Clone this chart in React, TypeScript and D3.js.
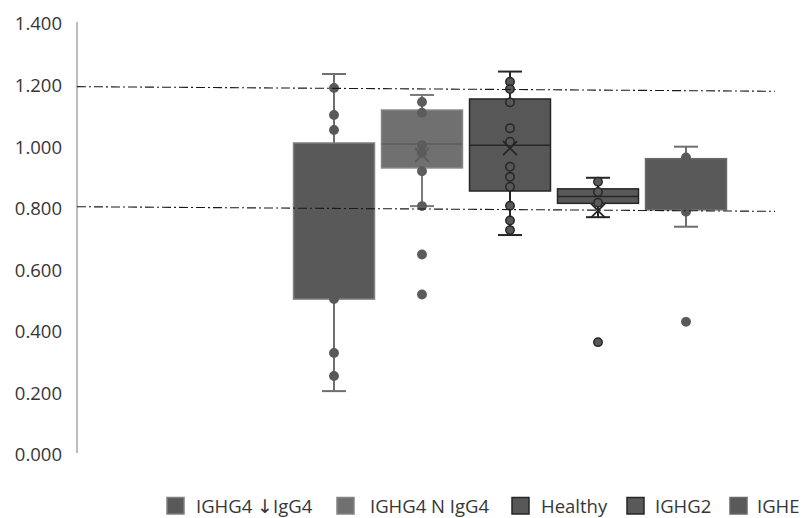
import * as d3 from "d3";

const categories = ["IGHG4 ↓IgG4", "IGHG4 N IgG4", "Healthy", "IGHG2", "IGHE"];
const q1 = [0.5, 0.926, 0.851, 0.811, 0.79];
const medians = [0.5, 1.004, 1.0, 0.833, 0.79];
const q3 = [1.007, 1.114, 1.15, 0.858, 0.956];
const whiskerLow = [0.201, 0.802, 0.708, 0.766, 0.735];
const whiskerHigh = [1.231, 1.163, 1.239, 0.894, 0.995];
const means = [null, 0.968, 0.99, 0.787, null];
const points = [
  [1.186, 1.098, 1.049, 0.5, 0.325, 0.25],
  [1.14, 1.105, 1.0, 0.975, 0.915, 0.802, 0.645, 0.515],
  [1.206, 1.182, 1.139, 1.055, 1.011, 0.93, 0.897, 0.865, 0.803, 0.755, 0.724],
  [0.881, 0.848, 0.813, 0.36],
  [0.96, 0.784, 0.426],
];
const fills = ["#595959", "#707070", "#575757", "#595959", "#595959"];
const strokes = ["#808080", "#858585", "#262626", "#262626", "#6a6a6a"];
const innerColors = ["#595959", "#5c5c5c", "#262626", "#262626", "#595959"];
const whiskerColors = ["#6e6e6e", "#7a7a7a", "#262626", "#262626", "#6e6e6e"];
const showMedian = [false, true, true, true, false];
const upperRef = [1.19, 1.175];
const lowerRef = [0.8, 0.785];
const yTicks = [0, 0.2, 0.4, 0.6, 0.8, 1.0, 1.2, 1.4];
const legendX = [167, 337, 512, 627, 730];
const legendTextOffset = [29, 33, 29, 28, 27];

const W = 803;
const H = 518;
const font = "'Open Sans', sans-serif";
const textColor = "#363636";

// the arrow glyph is drawn larger, in a font that has it at full height
function LegendLabel({ label }: { label: string }) {
  const parts = label.split("↓");
  if (parts.length === 1) return <>{label}</>;
  return (
    <>
      {parts[0]}
      <tspan fontFamily="'DejaVu Sans', sans-serif" fontSize={19}>↓</tspan>
      {parts[1]}
    </>
  );
}

export default function App() {
  const y = d3.scaleLinear().domain([0, 1.4]).range([453, 22]);
  const x = d3
    .scaleBand<string>()
    .domain(categories)
    .range([290, 730])
    .paddingInner(0.08)
    .paddingOuter(0.04);
  const bw = x.bandwidth();
  const refX = d3.scaleLinear().domain([0, 1]).range([77, 775]);

  return (
    <svg
      width={W}
      height={H}
      style={{ position: "absolute", left: 0, top: 0, background: "#fff" }}
    >
      {/* axis */}
      <line x1={77} x2={77} y1={y(1.4)} y2={y(0)} stroke="#a6a6a6" strokeWidth={1.5} />
      {yTicks.map((t) => (
        <text
          key={t}
          x={62}
          y={y(t) + 2}
          dy="0.35em"
          textAnchor="end"
          fontFamily={font}
          fontSize={18.5}
          fill={textColor}
        >
          {d3.format(".3f")(t)}
        </text>
      ))}

      {/* boxes */}
      {categories.map((c, i) => {
        const x0 = x(c)!;
        const cx = x0 + bw / 2;
        const m = means[i];
        return (
          <g key={c}>
            <line x1={cx} x2={cx} y1={y(whiskerHigh[i])} y2={y(whiskerLow[i])} stroke={whiskerColors[i]} strokeWidth={2} />
            <line x1={cx - 12} x2={cx + 12} y1={y(whiskerHigh[i])} y2={y(whiskerHigh[i])} stroke={whiskerColors[i]} strokeWidth={2} />
            <line x1={cx - 12} x2={cx + 12} y1={y(whiskerLow[i])} y2={y(whiskerLow[i])} stroke={whiskerColors[i]} strokeWidth={2} />
            <rect
              x={x0}
              y={y(q3[i])}
              width={bw}
              height={y(q1[i]) - y(q3[i])}
              fill={fills[i]}
              stroke={strokes[i]}
              strokeWidth={1.5}
            />
            {showMedian[i] && (
              <line x1={x0} x2={x0 + bw} y1={y(medians[i])} y2={y(medians[i])} stroke={innerColors[i]} strokeWidth={1.5} />
            )}
            {points[i].map((p, j) => (
              <circle
                key={j}
                cx={cx}
                cy={y(p)}
                r={4.2}
                fill={i === 1 ? innerColors[i] : fills[i]}
                stroke={innerColors[i]}
                strokeWidth={1.5}
              />
            ))}
            {m != null && (
              <path
                d={`M${cx - 7},${y(m) - 7}L${cx + 7},${y(m) + 7}M${cx - 7},${y(m) + 7}L${cx + 7},${y(m) - 7}`}
                stroke={innerColors[i]}
                strokeWidth={1.8}
              />
            )}
          </g>
        );
      })}

      {/* reference lines */}
      {[upperRef, lowerRef].map((r, k) => (
        <line
          key={k}
          x1={refX(0)}
          x2={refX(1)}
          y1={y(r[0])}
          y2={y(r[1])}
          stroke="#1a1a1a"
          strokeWidth={1.1}
          strokeDasharray="9 3 2 3"
        />
      ))}

      {/* legend */}
      {categories.map((c, i) => (
        <g key={c} transform={`translate(${legendX[i]},497.5)`}>
          <rect x={0} y={0} width={17} height={16.5} fill={fills[i]} stroke={strokes[i]} strokeWidth={1.5} />
          <text
            x={legendTextOffset[i]}
            y={9}
            dy="0.35em"
            fontFamily={font}
            fontSize={18.5}
            fill={textColor}
          >
            <LegendLabel label={c} />
          </text>
        </g>
      ))}
    </svg>
  );
}
